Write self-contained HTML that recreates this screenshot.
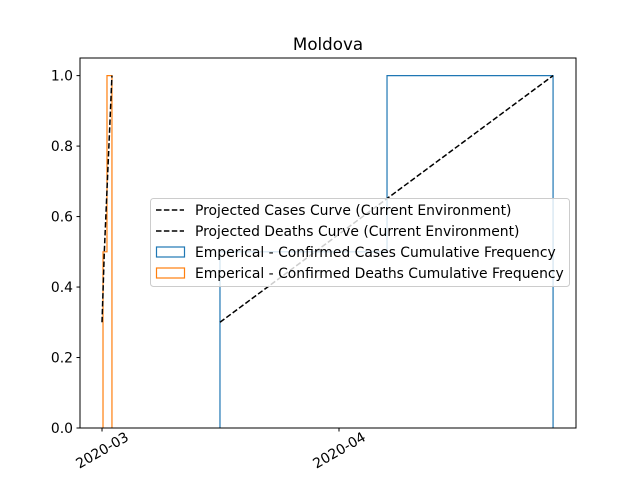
<!DOCTYPE html>
<html><head><meta charset="utf-8"><style>
body{margin:0;background:#fff;}
svg text{font-family:"DejaVu Sans","Liberation Sans",sans-serif;}
</style></head><body>
<svg id="chart" width="640" height="480" viewBox="0 0 640 480">
<rect width="640" height="480" fill="#fff"/>
<text x="328" y="50" font-size="16.7" text-anchor="middle">Moldova</text>
<g id="plot"></g>
</svg>
<script>
// data (days since 2020-03-01)
const tickDays=[0,31];
const tickLabels=["2020-03","2020-04"];
const yTicks=[0,0.2,0.4,0.6,0.8,1.0];
const casesEdges=[15.43,37.28,59.0];
const casesVals=[0.5,1.0];
const deathsEdges=[0.13,0.65,1.3];
const deathsVals=[0.5,1.0];
const casesCurveX=[15.43,59.0];
const casesCurveY=[0.3,1.0];
const deathsCurveX=[0,0.3,1.3];
const deathsCurveY=[0.3,0.5,1.0];

const L=80,R=576,T=58,B=428;
const x0=-2.88,x1=62.0;
const X=d=>L+(d-x0)/(x1-x0)*(R-L);
const Y=v=>B-v/1.05*(B-T);
const g=document.getElementById('plot');
const NS='http://www.w3.org/2000/svg';
function mk(t,a,p){const e=document.createElementNS(NS,t);for(const k in a)e.setAttribute(k,a[k]);(p||g).appendChild(e);return e;}

function step(edges,vals,color,name){
  let d='M'+X(edges[0])+','+Y(0);
  for(let i=0;i<vals.length;i++){d+=' L'+X(edges[i])+','+Y(vals[i])+' L'+X(edges[i+1])+','+Y(vals[i]);}
  d+=' L'+X(edges[edges.length-1])+','+Y(0);
  const p=mk('path',{d:d,fill:'none',stroke:color,'stroke-width':1.2});
  
  
}
step(casesEdges,casesVals,'#1f77b4','cases-histogram');
step(deathsEdges,deathsVals,'#ff7f0e','deaths-histogram');

function line(xs,ys,name){
  const pts=xs.map((x,i)=>X(x)+','+Y(ys[i])).join(' ');
  const p=mk('polyline',{points:pts,fill:'none',stroke:'#000','stroke-width':1.5,'stroke-dasharray':'5.5,2.4'});
  
  
}
line(casesCurveX,casesCurveY,'projected-cases-curve');
line(deathsCurveX,deathsCurveY,'projected-deaths-curve');

const frame=mk('rect',{x:L,y:T,width:R-L,height:B-T,fill:'none',stroke:'#000','stroke-width':1});



yTicks.forEach(v=>{
  mk('line',{x1:L-3.5,x2:L,y1:Y(v),y2:Y(v),stroke:'#000'});
  const t=mk('text',{x:L-7,y:Y(v)+5,'font-size':13.9,'text-anchor':'end'});
  t.textContent=v.toFixed(1);
  
  
});
tickDays.forEach((d,i)=>{
  const x=X(d);
  mk('line',{x1:x,x2:x,y1:B,y2:B+3.5,stroke:'#000'});
  const cx=x, cy=B+22;
  const t=mk('text',{x:cx,y:cy+5,'font-size':13.9,'text-anchor':'middle',transform:'rotate(-30 '+cx+' '+cy+')'});
  t.textContent=tickLabels[i];
  
  
});

// legend
const lg=mk('g',{});


mk('rect',{x:150.5,y:198.5,width:419,height:88,rx:3,fill:'#fff','fill-opacity':0.8,stroke:'#ccc'},lg);
const entries=[['Projected Cases Curve (Current Environment)','dash','#000'],['Projected Deaths Curve (Current Environment)','dash','#000'],['Emperical - Confirmed Cases Cumulative Frequency','box','#1f77b4'],['Emperical - Confirmed Deaths Cumulative Frequency','box','#ff7f0e']];
entries.forEach((e,i)=>{
  const cy=210+i*21;
  if(e[1]==='dash') mk('line',{x1:156,x2:184,y1:cy,y2:cy,stroke:'#000','stroke-width':1.5,'stroke-dasharray':'5.5,2.4'},lg);
  else mk('rect',{x:156.5,y:cy-5,width:28,height:10,fill:'none',stroke:e[2],'stroke-width':1.2},lg);
  const t=mk('text',{x:195,y:cy+5,'font-size':13.9},lg);
  t.textContent=e[0];
  
  
});
</script>
</body></html>
